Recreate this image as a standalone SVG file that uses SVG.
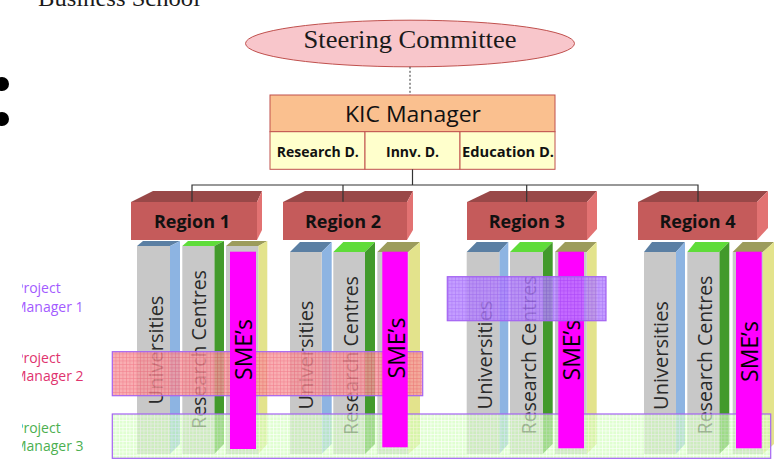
<svg xmlns="http://www.w3.org/2000/svg" width="777" height="459" viewBox="0 0 777 459">
<style>
.serif{font-family:"Liberation Serif","Times New Roman",serif;fill:#1a1a1a}
.sans{font-family:"Open Sans","Liberation Sans",sans-serif}
.rfront{fill:#C55B5B}
.rtop{fill:#994848}
.rside{fill:#E27272}
.rlab{font-family:"Open Sans","Liberation Sans",sans-serif;font-weight:bold;font-size:18px;fill:#111;text-anchor:middle}
.gray{fill:#C8C8C8}
.uside{fill:#8DB4E2}.utop{fill:#5B7FA3}
.cside{fill:#429A2B}.ctop{fill:#5FDC3A}
.sside{fill:#E3E38C}.stop{fill:#9C9C5C}
.mag{fill:#FF00FF}
.col{font-family:"Open Sans","Liberation Sans",sans-serif;font-size:20px;fill:#2a2a2a;text-anchor:middle}
.colr{font-size:19.5px}
.sme{font-family:"Open Sans","Liberation Sans",sans-serif;font-size:23px;fill:#000;text-anchor:middle}
.pmline{fill:none;stroke:#A463F2;stroke-width:1.2}
.conn{fill:none;stroke:#333;stroke-width:1.2}
.pml{font-family:"Open Sans","Liberation Sans",sans-serif;font-size:14px}
</style>
<defs>
<pattern id="gRed" width="3.5" height="3.5" patternUnits="userSpaceOnUse">
<rect width="3.5" height="3.5" fill="#F79A9F"/>
<path d="M0 0.3H3.5M0.3 0V3.5" stroke="#EE5E70" stroke-width="0.6"/>
</pattern>
<pattern id="gPur" width="3.5" height="3.5" patternUnits="userSpaceOnUse">
<rect width="3.5" height="3.5" fill="#B585FF"/>
<path d="M0 0.3H3.5M0.3 0V3.5" stroke="#9655F5" stroke-width="0.6"/>
</pattern>
<pattern id="gGrn" width="3.5" height="3.5" patternUnits="userSpaceOnUse">
<rect width="3.5" height="3.5" fill="#CFFFB8"/>
<path d="M0 0.3H3.5M0.3 0V3.5" stroke="#FFFFFF" stroke-width="0.7"/>
</pattern>
<clipPath id="leftClip"><rect x="22" y="0" width="200" height="459"/></clipPath>
</defs>
<rect width="777" height="459" fill="#FFFFFF"/>

<g id="header">
<text class="serif" x="38" y="6" font-size="23" textLength="162" lengthAdjust="spacingAndGlyphs">Business School</text>
<ellipse cx="2" cy="84" rx="7" ry="7" fill="#000"/>
<ellipse cx="2" cy="119" rx="7" ry="7" fill="#000"/>
</g>

<g id="node-steering">
<ellipse cx="410" cy="43.5" rx="164.5" ry="23.3" fill="#F8C6CB" stroke="#C0504D" stroke-width="1"/>
<text class="serif" x="410" y="48" font-size="25" text-anchor="middle" textLength="213" lengthAdjust="spacingAndGlyphs">Steering Committee</text>
</g>

<g id="node-kic">
<rect x="270" y="95" width="285" height="36.7" fill="#FAC08F" stroke="#C0504D" stroke-width="1"/>
<text class="sans" x="413" y="121.7" font-size="21" fill="#111" text-anchor="middle" textLength="136" lengthAdjust="spacingAndGlyphs">KIC Manager</text>
<rect x="270" y="131.7" width="95" height="37.6" fill="#FFFFCC" stroke="#C0504D" stroke-width="1"/>
<rect x="365" y="131.7" width="95" height="37.6" fill="#FFFFCC" stroke="#C0504D" stroke-width="1"/>
<rect x="460" y="131.7" width="95" height="37.6" fill="#FFFFCC" stroke="#C0504D" stroke-width="1"/>
<text class="sans" x="317.8" y="156.7" font-size="14" font-weight="bold" fill="#111" text-anchor="middle">Research D.</text>
<text class="sans" x="412.5" y="156.7" font-size="14" font-weight="bold" fill="#111" text-anchor="middle">Innv. D.</text>
<text class="sans" x="508" y="156.7" font-size="14" font-weight="bold" fill="#111" text-anchor="middle" textLength="92" lengthAdjust="spacingAndGlyphs">Education D.</text>
</g>

<g id="node-region1">
<polygon class="rtop" points="131,202 153,191 262,191 257,202"/>
<polygon class="rside" points="257,202 262,191 262,230 257,240"/>
<rect class="rfront" x="131" y="202" width="126" height="38"/>
<text class="rlab" x="192" y="227.7">Region 1</text>
</g>
<g id="node-region2">
<polygon class="rtop" points="283,202 305,191 413,191 407,202"/>
<polygon class="rside" points="407,202 413,191 413,230 407,240"/>
<rect class="rfront" x="283" y="202" width="124" height="38"/>
<text class="rlab" x="343" y="227.7">Region 2</text>
</g>
<g id="node-region3">
<polygon class="rtop" points="467,202 490,191 597,191 587,202"/>
<polygon class="rside" points="587,202 597,191 597,229 587,240"/>
<rect class="rfront" x="467" y="202" width="120" height="38"/>
<text class="rlab" x="526.7" y="227.7">Region 3</text>
</g>
<g id="node-region4">
<polygon class="rtop" points="638,202 660,191 768,191 757,202"/>
<polygon class="rside" points="757,202 768,191 768,228 757,240"/>
<rect class="rfront" x="638" y="202" width="119" height="38"/>
<text class="rlab" x="697.5" y="227.7">Region 4</text>
</g>

<!-- Region 1 columns -->
<g id="node-r1-univ">
<polygon class="utop" points="137,246 143,241 180,241 170,246"/>
<polygon class="uside" points="170,246 180,241 180,444 170,454"/>
<rect class="gray" x="137" y="246" width="33" height="208"/>
<text class="col" transform="translate(163,350) rotate(-90)">Universities</text>
</g>
<g id="node-r1-rc">
<polygon class="ctop" points="182.3,246 188,241 224,241 214.3,246"/>
<polygon class="cside" points="214.3,246 224,241 224,444 214.3,454"/>
<rect class="gray" x="182.3" y="246" width="32" height="208"/>
<text class="col colr" transform="translate(206,349.5) rotate(-90)">Research Centres</text>
</g>
<g id="node-r1-smecol">
<polygon class="stop" points="226,246 232,241 267.3,241 258.3,246"/>
<polygon class="sside" points="258.3,246 267.3,241 267.3,444 258.3,454"/>
<rect class="gray" x="226" y="246" width="32.3" height="208"/>
</g>

<!-- Region 2 columns -->
<g id="node-r2-univ">
<polygon class="utop" points="290,252 300,242 331.7,242 321.7,252"/>
<polygon class="uside" points="321.7,252 331.7,242 331.7,444 321.7,454"/>
<rect class="gray" x="290" y="252" width="31.7" height="202"/>
<text class="col" transform="translate(313.3,355) rotate(-90)">Universities</text>
</g>
<g id="node-r2-rc">
<polygon class="ctop" points="333.3,252 343.3,242 375,242 365,252"/>
<polygon class="cside" points="365,252 375,242 375,444 365,454"/>
<rect class="gray" x="333.3" y="252" width="31.7" height="202"/>
<text class="col colr" transform="translate(358,355.5) rotate(-90)">Research Centres</text>
</g>
<g id="node-r2-smecol">
<polygon class="stop" points="377.3,252 387.3,242 420,242 408.3,252"/>
<polygon class="sside" points="408.3,252 420,242 420,444 408.3,454"/>
<rect class="gray" x="377.3" y="252" width="31" height="202"/>
</g>

<!-- Region 3 columns -->
<g id="node-r3-univ">
<polygon class="utop" points="466.7,252 476.7,242 508.3,242 499.3,252"/>
<polygon class="uside" points="499.3,252 508.3,242 508.3,444 499.3,454"/>
<rect class="gray" x="466.7" y="252" width="32.6" height="202"/>
<text class="col" transform="translate(491.7,355) rotate(-90)">Universities</text>
</g>
<g id="node-r3-rc">
<polygon class="ctop" points="510,252 520,242 552.7,242 542.7,252"/>
<polygon class="cside" points="542.7,252 552.7,242 552.7,444 542.7,454"/>
<rect class="gray" x="510" y="252" width="32.7" height="202"/>
<text class="col colr" transform="translate(536,355) rotate(-90)">Research Centres</text>
</g>
<g id="node-r3-smecol">
<polygon class="stop" points="555,252 565,242 596.7,242 586.7,252"/>
<polygon class="sside" points="586.7,252 596.7,242 596.7,444 586.7,454"/>
<rect class="gray" x="555" y="252" width="31.7" height="202"/>
</g>

<!-- Region 4 columns -->
<g id="node-r4-univ">
<polygon class="utop" points="644,252 652,242 685,242 676,252"/>
<polygon class="uside" points="676,252 685,242 685,444 676,454"/>
<rect class="gray" x="644" y="252" width="32" height="202"/>
<text class="col" transform="translate(668,355.5) rotate(-90)">Universities</text>
</g>
<g id="node-r4-rc">
<polygon class="ctop" points="687.3,252 695.3,242 729.3,242 719.3,252"/>
<polygon class="cside" points="719.3,252 729.3,242 729.3,444 719.3,454"/>
<rect class="gray" x="687.3" y="252" width="32" height="202"/>
<text class="col colr" transform="translate(711.7,355) rotate(-90)">Research Centres</text>
</g>
<g id="node-r4-smecol">
<polygon class="stop" points="732.7,252 742.7,242 774,242 763,252"/>
<polygon class="sside" points="763,252 774,242 774,444 763,454"/>
<rect class="gray" x="732.7" y="252" width="30.3" height="202"/>
</g>

<!-- Project manager 2 and 3 bands -->
<g id="node-pm2">
<rect x="112.3" y="351.7" width="310.4" height="44" fill="url(#gRed)" opacity="0.8"/>
<rect class="pmline" x="112.3" y="351.7" width="310.4" height="44"/>
</g>
<g id="node-pm3">
<rect x="112.3" y="414" width="658.4" height="44.3" fill="url(#gGrn)" opacity="0.65"/>
<rect class="pmline" x="112.3" y="414" width="658.4" height="44.3"/>
</g>

<!-- SME bars -->
<g id="node-r1-sme">
<rect class="mag" x="230" y="251.7" width="26" height="197.3"/>
<text class="sme" transform="translate(251.7,349.5) rotate(-90)">SME’s</text>
</g>
<g id="node-r2-sme">
<rect class="mag" x="382.3" y="251.7" width="25.4" height="195.6"/>
<text class="sme" transform="translate(405,348) rotate(-90)">SME’s</text>
</g>
<g id="node-r3-sme">
<rect class="mag" x="558.3" y="251.7" width="25.7" height="196.6"/>
<text class="sme" transform="translate(580,350) rotate(-90)">SME’s</text>
</g>
<g id="node-r4-sme">
<rect class="mag" x="736" y="251.7" width="25.7" height="196.6"/>
<text class="sme" transform="translate(758,351.5) rotate(-90)">SME’s</text>
</g>

<g id="node-pm1">
<rect x="447.3" y="276.7" width="158.7" height="44" fill="url(#gPur)" opacity="0.8"/>
<rect class="pmline" x="447.3" y="276.7" width="158.7" height="44"/>
</g>

<g id="connectors">
<line x1="410" y1="66.8" x2="410" y2="95" stroke="#333" stroke-width="1" stroke-dasharray="2,2"/>
<polyline class="conn" points="412.5,169.3 412.5,185"/>
<polyline class="conn" points="192,201.7 192,185 698,185 698,201.7"/>
<polyline class="conn" points="343,185 343,201.7"/>
<polyline class="conn" points="526.7,185 526.7,201.7"/>
</g>

<g id="pm-labels" clip-path="url(#leftClip)">
<text class="pml" x="15" y="293.3" fill="#A35BFF">Project</text>
<text class="pml" x="14" y="311.7" fill="#A35BFF">Manager 1</text>
<text class="pml" x="15" y="362.7" fill="#E0336E">Project</text>
<text class="pml" x="14" y="381" fill="#E0336E">Manager 2</text>
<text class="pml" x="15" y="432.7" fill="#4CAF50">Project</text>
<text class="pml" x="14" y="450.5" fill="#4CAF50">Manager 3</text>
</g>
</svg>
